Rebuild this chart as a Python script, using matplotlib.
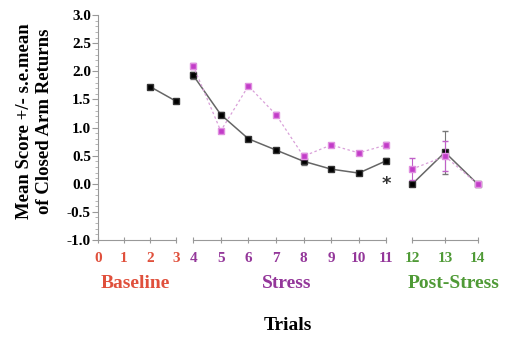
import matplotlib.pyplot as plt
from matplotlib.ticker import MultipleLocator

# trials grouped by phase
base_x = [2, 3]
base_black = [1.73, 1.47]
base_black_err = [0.03, 0.03]

stress_x = [4, 5, 6, 7, 8, 9, 10, 11]
stress_black = [1.93, 1.23, 0.80, 0.60, 0.40, 0.26, 0.19, 0.41]
stress_black_err = [0.06, 0.04, 0.04, 0.03, 0.06, 0.03, 0.03, 0.04]
stress_pink = [2.10, 0.94, 1.74, 1.23, 0.49, 0.69, 0.55, 0.69]
stress_pink_err = [0.05, 0.04, 0.04, 0.04, 0.05, 0.04, 0.03, 0.06]

post_x = [12, 13, 14]
post_black = [-0.01, 0.56, -0.01]
post_black_err = [0.03, 0.38, 0.02]
post_pink = [0.26, 0.49, -0.01]
post_pink_err = [0.20, 0.27, 0.02]

sig_x, sig_y = 11, 0.0

phases = ['Baseline', 'Stress', 'Post-Stress']
phase_colors = ['#e0503c', '#94379a', '#4f9a36']
phase_ticks = [[0, 1, 2, 3], list(range(4, 12)), [12, 13, 14]]

serif = ['Liberation Serif', 'DejaVu Serif']
fig = plt.figure(figsize=(5.07, 3.37), dpi=100)
bottom, height = 0.288, 0.667
ax1 = fig.add_axes([0.193, bottom, 0.154, height])
ax2 = fig.add_axes([0.381, bottom, 0.381, height], sharey=ax1)
ax3 = fig.add_axes([0.8126, bottom, 0.130, height], sharey=ax1)
axes = [ax1, ax2, ax3]

black_kw = dict(color='#666666', lw=1.1, marker='s', ms=4.5, mfc='black', mec='#333333',
                ecolor='#777777', elinewidth=0.8, capsize=2, clip_on=False, zorder=3)
pink_kw = dict(color='#d9a0d9', lw=0.9, ls=(0, (2, 2)), marker='s', ms=4, mfc='#c23cc8',
               mec='#e090e0', ecolor='#c060c8', elinewidth=0.8, capsize=2, clip_on=False, zorder=4)

ax1.errorbar(base_x, base_black, yerr=base_black_err, **black_kw)
ax2.errorbar(stress_x, stress_pink, yerr=stress_pink_err, **pink_kw)
ax2.errorbar(stress_x, stress_black, yerr=stress_black_err, **black_kw)
ax2.text(sig_x, sig_y, '*', ha='center', va='center', fontsize=13, fontweight='bold',
         color='#333333', zorder=5)
ax3.errorbar(post_x, post_black, yerr=post_black_err, **black_kw)
ax3.errorbar(post_x, post_pink, yerr=post_pink_err, **pink_kw)

limits = [(0, 3), (4, 11), (12, 14)]
for ax, lim, ticks, col in zip(axes, limits, phase_ticks, phase_colors):
    ax.set_xlim(*lim)
    ax.set_ylim(-1.0, 3.0)
    for side in ['top', 'right', 'left']:
        ax.spines[side].set_visible(False)
    ax.spines['bottom'].set_color('#999999')
    ax.spines['bottom'].set_linewidth(0.8)
    ax.set_xticks(ticks)
    ax.set_xticklabels([str(t) for t in ticks], color=col, fontsize=11,
                       fontweight='bold', family=serif)
    ax.tick_params(axis='x', direction='inout', length=5, color='#999999', pad=6)
    ax.patch.set_alpha(0)

ax1.spines['left'].set_visible(True)
ax1.spines['left'].set_color('#999999')
ax1.spines['left'].set_linewidth(0.8)
ax1.yaxis.set_major_locator(MultipleLocator(0.5))
ax1.yaxis.set_minor_locator(MultipleLocator(0.1))
ax1.set_yticks(ax1.get_yticks())
ax1.set_yticklabels([f'{v:.1f}' for v in ax1.get_yticks()], fontsize=11,
                    fontweight='bold', family=serif)
ax1.set_ylim(-1.0, 3.0)
ax1.tick_params(axis='y', which='major', direction='out', length=4, color='#999999', pad=1)
ax1.tick_params(axis='y', which='minor', direction='out', length=2, color='#aaaaaa')
for ax in [ax2, ax3]:
    ax.tick_params(axis='y', which='both', left=False, labelleft=False)

ax1.set_ylabel('Mean Score +/- s.e.mean\nof Closed Arm Returns', fontsize=13.5,
               fontweight='bold', family=serif, linespacing=1.2)
ax1.yaxis.set_label_coords(-0.58, 0.53)

for x, name, col in zip([135, 287, 454], phases, phase_colors):
    fig.text(x / 507, 1 - 283 / 337, name, ha='center', va='center', color=col,
             fontsize=14, fontweight='bold', family=serif)
fig.text(288 / 507, 1 - 325 / 337, 'Trials', ha='center', va='center',
         fontsize=14, fontweight='bold', family=serif)

fig.savefig('out.png', dpi=100, facecolor='white')
